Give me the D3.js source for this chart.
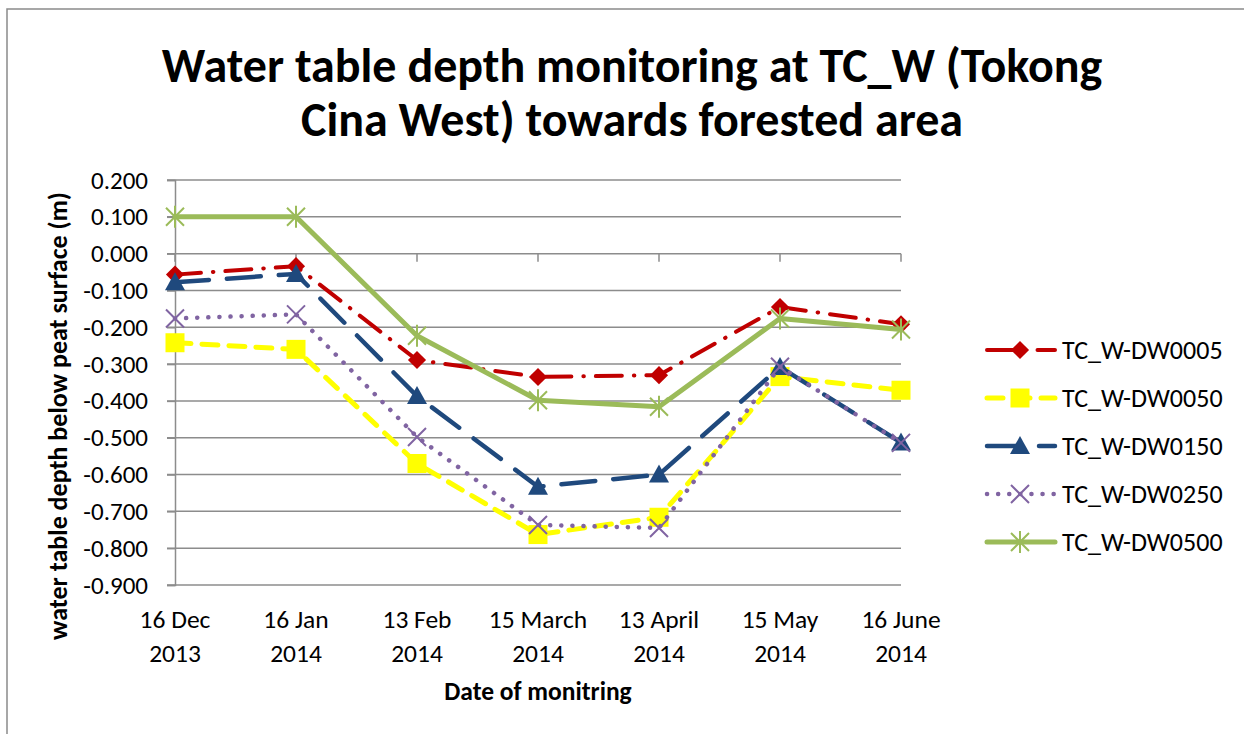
<!DOCTYPE html>
<html>
<head>
<meta charset="utf-8">
<script src="https://cdn.jsdelivr.net/npm/d3@7"></script>
<style>
  body { margin: 0; background: #fff; }
  svg text { font-family: Carlito, Calibri, Lato, "Open Sans", sans-serif; }
</style>
</head>
<body>
<div id="chart"></div>
<script>
// data
var dates = ["16 Dec 2013", "16 Jan 2014", "13 Feb 2014", "15 March 2014", "13 April 2014", "15 May 2014", "16 June 2014"];
var dateLines = [["16 Dec", "2013"], ["16 Jan", "2014"], ["13 Feb", "2014"], ["15 March", "2014"], ["13 April", "2014"], ["15 May", "2014"], ["16 June", "2014"]];
var seriesNames = ["TC_W-DW0005", "TC_W-DW0050", "TC_W-DW0150", "TC_W-DW0250", "TC_W-DW0500"];
var dw0005 = [-0.057, -0.034, -0.289, -0.335, -0.330, -0.145, -0.192];
var dw0050 = [-0.242, -0.260, -0.570, -0.763, -0.716, -0.334, -0.371];
var dw0150 = [-0.078, -0.055, -0.387, -0.633, -0.600, -0.308, -0.513];
var dw0250 = [-0.176, -0.165, -0.498, -0.737, -0.745, -0.307, -0.514];
var dw0500 = [0.100, 0.100, -0.223, -0.398, -0.416, -0.176, -0.206];
var yTicks = [0.2, 0.1, 0, -0.1, -0.2, -0.3, -0.4, -0.5, -0.6, -0.7, -0.8, -0.9];

var W = 1244, H = 734;
var svg = d3.select("#chart").append("svg")
    .attr("width", W)
    .attr("height", H);

// chart frame
svg.append("rect")
  .attr("x", 7).attr("y", 9)
  .attr("width", W + 20).attr("height", H + 20)
  .attr("fill", "#fff")
  .attr("stroke", "#8a8a8a")
  .attr("stroke-width", 1.5);

var x = d3.scalePoint().domain(dates).range([175, 901]);
var y = d3.scaleLinear().domain([-0.9, 0.2]).range([585, 180]);

// gridlines
svg.append("g")
  .selectAll("line")
  .data(yTicks)
  .enter().append("line")
    .attr("x1", 167).attr("x2", 901)
    .attr("y1", function(d) { return y(d); })
    .attr("y2", function(d) { return y(d); })
    .attr("stroke", "#8c8c8c")
    .attr("stroke-width", 1.5);

// y axis
var yAxis = svg.append("g")
  .attr("transform", "translate(175,0)")
  .call(d3.axisLeft(y).tickValues(yTicks).tickSize(8).tickPadding(19)
        .tickFormat(function(d) { return d.toFixed(3); }));
yAxis.select(".domain").attr("stroke", "#8c8c8c").attr("stroke-width", 1.5);
yAxis.selectAll(".tick line").attr("stroke", "#8c8c8c").attr("stroke-width", 1.5);
yAxis.selectAll("text")
  .attr("font-size", 25)
  .attr("fill", "#000")
  .style("font-family", "Carlito, Calibri, Lato, sans-serif");

// x axis ticks crossing at zero
svg.append("g")
  .selectAll("line")
  .data(dates)
  .enter().append("line")
    .attr("x1", function(d) { return x(d); })
    .attr("x2", function(d) { return x(d); })
    .attr("y1", y(0)).attr("y2", y(0) + 8)
    .attr("stroke", "#8c8c8c")
    .attr("stroke-width", 1.5);

// x tick labels, low position
var xl = svg.append("g");
dateLines.forEach(function(lines, i) {
  var t = xl.append("text")
    .attr("x", x(dates[i]))
    .attr("y", 628)
    .attr("text-anchor", "middle")
    .attr("font-size", 25.5)
    .attr("fill", "#000");
  t.append("tspan").attr("x", x(dates[i])).text(lines[0]);
  t.append("tspan").attr("x", x(dates[i])).attr("dy", 34).text(lines[1]);
});

// titles
svg.append("text")
  .attr("x", 632).attr("y", 82)
  .attr("text-anchor", "middle")
  .attr("font-size", 48).attr("font-weight", "bold")
  .text("Water table depth monitoring at TC_W (Tokong");
svg.append("text")
  .attr("x", 632).attr("y", 136)
  .attr("text-anchor", "middle")
  .attr("font-size", 48).attr("font-weight", "bold")
  .text("Cina West) towards forested area");

svg.append("text")
  .attr("x", 538).attr("y", 700)
  .attr("text-anchor", "middle")
  .attr("font-size", 25.5).attr("font-weight", "bold")
  .text("Date of monitring");

svg.append("text")
  .attr("transform", "translate(67,416) rotate(-90)")
  .attr("text-anchor", "middle")
  .attr("font-size", 26).attr("font-weight", "bold")
  .text("water table depth below peat surface (m)");

// series styling
var styles = [
  {values: dw0005, color: "#C00000", width: 4, dash: "26,12,0.5,12", marker: "diamond"},
  {values: dw0050, color: "#FFFF00", width: 5, dash: "16,11", marker: "square"},
  {values: dw0150, color: "#1F497D", width: 4.5, dash: "34,18", marker: "triangle"},
  {values: dw0250, color: "#8064A2", width: 4.5, dash: "0.1,11", marker: "x"},
  {values: dw0500, color: "#9BBB59", width: 5, dash: null, marker: "star"}
];

function drawMarker(g, kind, color, cx, cy) {
  if (kind === "diamond") {
    g.append("path").attr("d", d3.symbol().type(d3.symbolDiamond2).size(210)())
      .attr("transform", "translate(" + cx + "," + cy + ")")
      .attr("fill", color);
  } else if (kind === "square") {
    g.append("rect").attr("x", cx - 9.5).attr("y", cy - 9.5)
      .attr("width", 19).attr("height", 19).attr("fill", color);
  } else if (kind === "triangle") {
    g.append("path").attr("d", "M0,-10L10,8L-10,8Z")
      .attr("transform", "translate(" + cx + "," + cy + ")")
      .attr("fill", color);
  } else if (kind === "x") {
    g.append("path").attr("d", "M-9,-9L9,9M-9,9L9,-9")
      .attr("transform", "translate(" + cx + "," + cy + ")")
      .attr("stroke", color).attr("stroke-width", 2).attr("fill", "none");
  } else if (kind === "star") {
    g.append("path").attr("d", "M-9,-9L9,9M-9,9L9,-9M0,-11L0,11")
      .attr("transform", "translate(" + cx + "," + cy + ")")
      .attr("stroke", color).attr("stroke-width", 2).attr("fill", "none");
  }
}

var line = d3.line()
  .x(function(d, i) { return x(dates[i]); })
  .y(function(d) { return y(d); });

styles.forEach(function(s) {
  var g = svg.append("g");
  g.append("path")
    .datum(s.values)
    .attr("fill", "none")
    .attr("stroke", s.color)
    .attr("stroke-width", s.width)
    .attr("stroke-linecap", "round")
    .attr("stroke-linejoin", "round")
    .attr("stroke-dasharray", s.dash)
    .attr("d", line);
  s.values.forEach(function(v, i) {
    drawMarker(g, s.marker, s.color, x(dates[i]), y(v));
  });
});

// legend
var legend = svg.append("g");
styles.forEach(function(s, i) {
  var ly = 350 + i * 48;
  legend.append("line")
    .attr("x1", 987).attr("x2", 1055)
    .attr("y1", ly).attr("y2", ly)
    .attr("stroke", s.color)
    .attr("stroke-width", s.width)
    .attr("stroke-linecap", "round")
    .attr("stroke-dasharray", s.dash);
  drawMarker(legend, s.marker, s.color, 1020, ly);
  legend.append("text")
    .attr("x", 1062).attr("y", ly + 9)
    .attr("font-size", 26)
    .text(seriesNames[i]);
});
</script>
</body>
</html>
